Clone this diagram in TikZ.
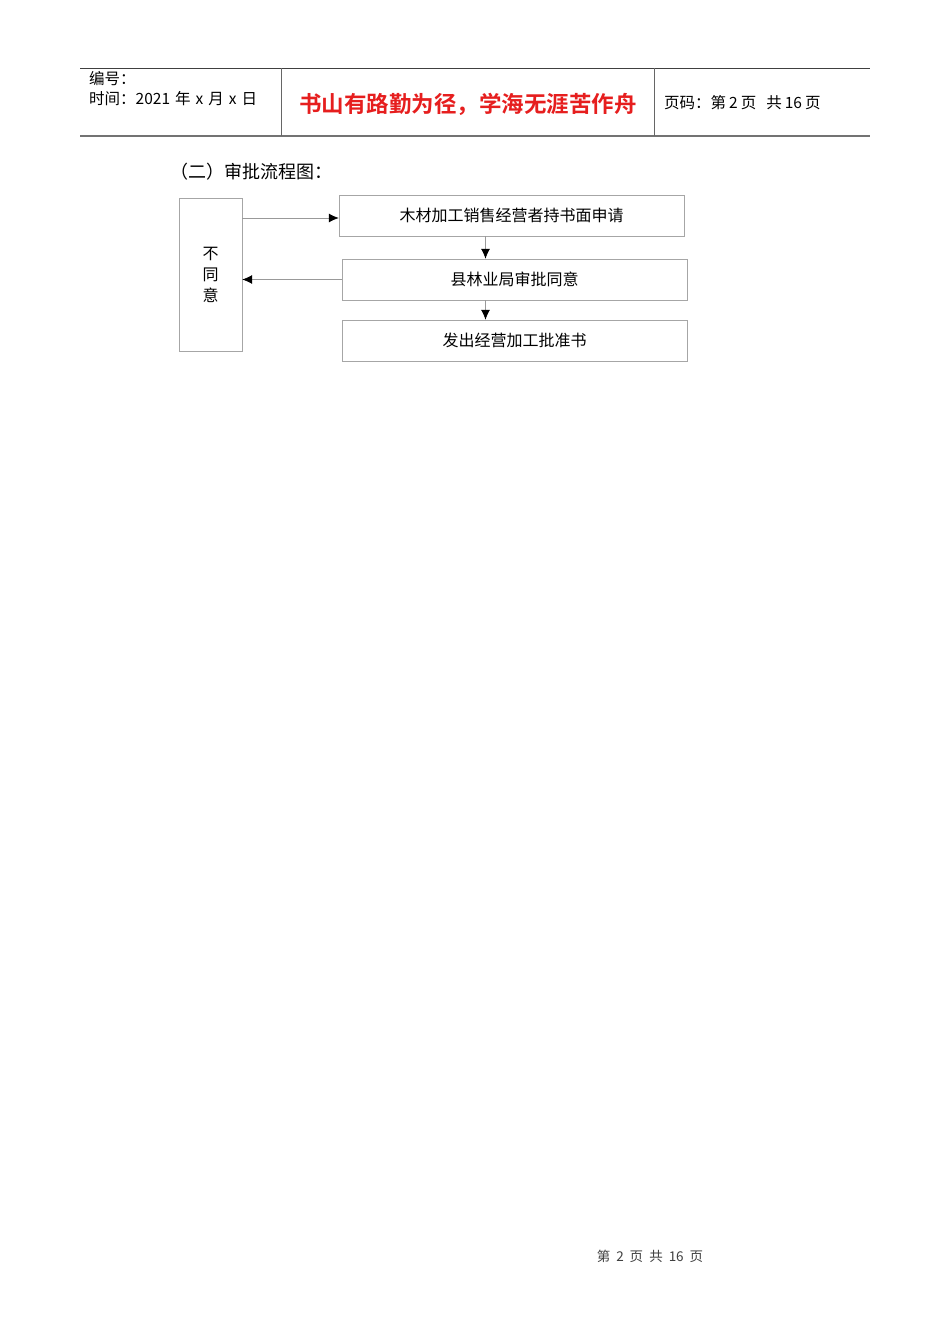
\documentclass[tikz,border=0pt]{standalone}
\usepackage{fontspec}
\newfontfamily\cjk{Noto Sans CJK SC}
\newfontfamily\cjkbold{Noto Sans CJK SC Bold}
\usetikzlibrary{arrows.meta}
\tikzset{>=latex}
\definecolor{mottored}{RGB}{230,30,30}
\tikzset{
  flowbox/.style={draw=black!35,
    minimum width=345pt,
    minimum height=41pt,
    align=center,
    font=\cjk\fontsize{16}{21}\selectfont},
  flowline/.style={draw=black!40, line width=0.8pt,
    -{Latex[black, length=10pt, width=9pt]}},
  headtext/.style={anchor=west, inner sep=0pt,
    font=\cjk\fontsize{15.5}{18}\selectfont}
}

\begin{document}
\begin{tikzpicture}[x=1pt, y=-1pt]
\useasboundingbox[fill=white] (0,0) rectangle (950,1344);

% page header
	\draw[black!75, line width=1pt] (80,68) -- (870,68);
	\draw[black!55, line width=2pt] (80,136) -- (870,136);
	\draw[black!60, line width=1pt] (281,68) -- (281,136);
	\draw[black!60, line width=1pt] (654,68) -- (654,136);
	\node[headtext] (number) at (89,79) {编号：};
	\node[headtext] (date) at (89,99) {时间：2021\hspace{5pt}年\hspace{5pt}x\hspace{5pt}月\hspace{5pt}x\hspace{5pt}日};
	\node[inner sep=0pt, text=mottored,
		font=\cjkbold\fontsize{22.5}{26}\selectfont] (motto) at (468,104) {书山有路勤为径，学海无涯苦作舟};
	\node[headtext] (pages) at (664,103) {页码：第\hspace{3pt}2\hspace{3pt}页\hspace{10pt}共\hspace{3pt}16\hspace{3pt}页};

% section title
	\node[anchor=west, inner sep=0pt,
		font=\cjk\fontsize{18}{21}\selectfont] (title) at (170,172) {（二）审批流程图：};

% flow chart
	\node[draw=black!35,
		minimum width=63pt,
		minimum height=153pt,
		align=center,
		font=\cjk\fontsize{16}{21}\selectfont] (deny) at (210.5,274.5) {不\\同\\意};
	\node[flowbox] (apply) at (511.5,215.5) {木材加工销售经营者持书面申请};
	\node[flowbox] (approve) at (514.5,279.5) {县林业局审批同意};
	\node[flowbox] (issue) at (514.5,340.5) {发出经营加工批准书};

	\draw[flowline] ([yshift=-2.5pt]deny.east |- apply.west) -- ([yshift=-2.5pt]apply.west);
	\draw[flowline] (approve.west) -- (approve.west -| deny.east);
	\draw[flowline] ([xshift=-26pt]apply.south) -- ([xshift=-26pt]apply.south |- approve.north);
	\draw[flowline] ([xshift=-29pt]approve.south) -- ([xshift=-29pt]approve.south |- issue.north);

% page footer
	\node[inner sep=0pt, text=black!75,
		font=\cjk\fontsize{13.5}{15}\selectfont] (footer) at (650,1256) {第\hspace{6pt}2\hspace{6pt}页\hspace{6pt}共\hspace{6pt}16\hspace{6pt}页};
\end{tikzpicture}
\end{document}
